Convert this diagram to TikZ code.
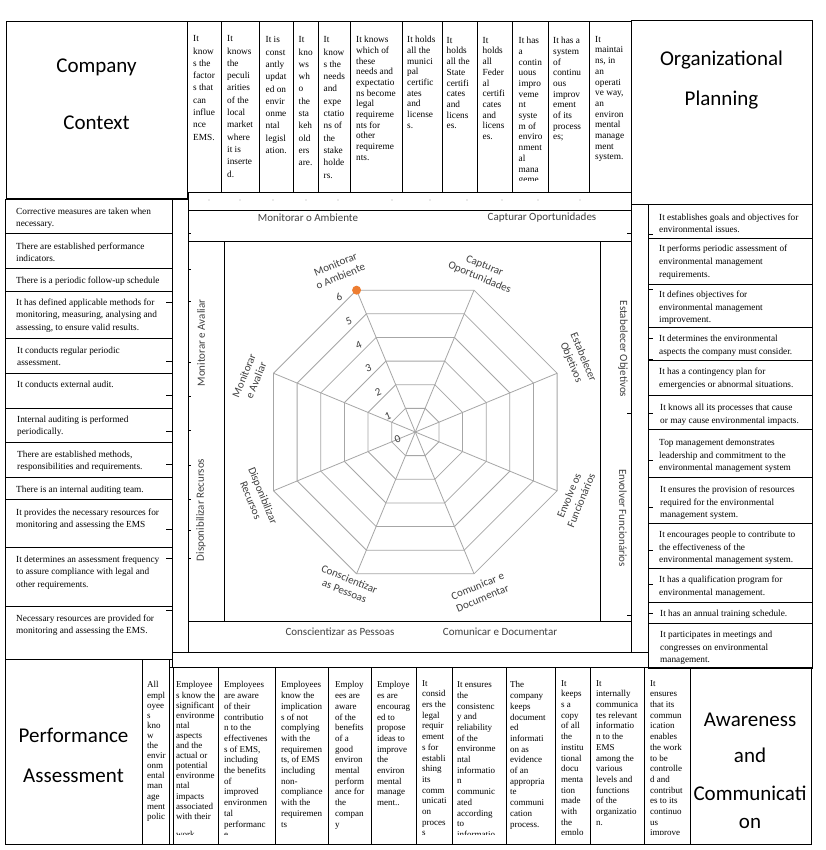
\documentclass[tikz,border=0pt]{standalone}
\usepackage{fontspec}
\setmainfont{Liberation Serif}
\newfontfamily\calib{Carlito}
\definecolor{gridgray}{HTML}{A6A6A6}
\definecolor{lblgray}{HTML}{404040}
\definecolor{dotorange}{HTML}{ED7D31}
\begin{document}
\begin{tikzpicture}[x=1pt,y=-1pt,
  bx/.style={draw=black,line width=0.8pt},
  tick/.style={draw=black,line width=0.8pt},
  txt/.style={align=left,inner sep=0pt,anchor=north west,text=black},
  tA/.style={txt,font=\fontsize{9.3}{12.3}\selectfont},
  tB/.style={txt,font=\fontsize{9.3}{10.7}\selectfont},
  lc/.style={txt,font=\fontsize{9.3}{12.3}\selectfont},
  rc/.style={txt,font=\fontsize{9.3}{12.6}\selectfont},
  bA/.style={txt,font=\fontsize{9}{10.7}\selectfont},
  bB/.style={txt,font=\fontsize{9}{10.1}\selectfont},
  ttl/.style={inner sep=0pt,font=\calib\fontsize{21}{25}\selectfont},
  blbl/.style={inner sep=0pt,text=lblgray,font=\calib\fontsize{11}{13}\selectfont},
  clbl/.style={inner sep=0pt,align=center,text=lblgray,font=\calib\fontsize{11}{13}\selectfont},
  nlbl/.style={inner sep=0pt,text=lblgray,font=\calib\fontsize{11}{13}\selectfont,rotate=22.5},
  grid/.style={draw=gridgray,line width=0.8pt}
]
\useasboundingbox (0,0) rectangle (825,850);
\fill[white] (0,0) rectangle (825,850);

% ---------- frame around the chart ----------
\draw[bx] (188,192) rectangle (631,210);
\draw[bx] (188,210) rectangle (631,241);
\draw[bx] (188,241) rectangle (224,621);
\draw[bx] (600,241) rectangle (631,621);
\draw[bx] (224,241) rectangle (600,621);
\draw[bx] (188,621) rectangle (631,652);
\draw[bx] (172,199) rectangle (188,652);
\draw[bx] (631,204) rectangle (648,652);
\draw[bx] (172,652) rectangle (648,667);
\foreach \x in {209,240,273,306,338,392,430,467,502,538,580}
  \fill[gray!70] (\x,200) circle (0.6);

% ---------- corner title boxes ----------
\draw[bx] (6,21) rectangle (187,198);
\draw[bx] (631,20) rectangle (812,204);
\draw[bx] (5,659) rectangle (142,844);
\draw[bx] (690,667) rectangle (811,844);
\node[ttl] (cc1) at (96.5,67) {Company};
\node[ttl] (cc2) at (96.5,123) {Context};
\node[ttl] (op1) at (721.5,60) {Organizational};
\node[ttl] (op2) at (721.5,100) {Planning};
\node[ttl] (pa1) at (73.5,735) {Performance};
\node[ttl] (pa2) at (73.5,776) {Assessment};
\node[ttl] (ac1) at (750,720) {Awareness};
\node[ttl] (ac2) at (750,755) {and};
\node[ttl] (ac3) at (750,793) {Communicati};
\node[ttl] (ac4) at (750,823) {on};

% ---------- top row ----------
\foreach \a/\b in {187/221,221/259,259/293,293/318,318/350,350/402,402/442,442/477,477/512,512/548,548/589,589/631}
  \draw[bx] (\a,21) rectangle (\b,192);
\begin{scope}
\clip (187,21) rectangle (631,181);
\node[tA] (t1) at (193,35.5) {It\\know\\s the\\factor\\s that\\can\\influe\\nce\\EMS.};
\node[tA] (t2) at (227,35.5) {It\\knows\\the\\peculi\\arities\\of the\\local\\market\\where\\it is\\inserte\\d.};
\node[tA] (t3) at (265.5,36.5) {It is\\const\\antly\\updat\\ed on\\envir\\onme\\ntal\\legisl\\ation.};
\node[tA] (t4) at (298.5,36.5) {It\\kno\\ws\\wh\\o\\the\\sta\\keh\\old\\ers\\are.};
\node[tA] (t5) at (323.5,36.5) {It\\know\\s the\\needs\\and\\expe\\ctatio\\ns of\\the\\stake\\holde\\rs.};
\node[tB] (t6) at (356,36) {It knows\\which of\\these\\needs and\\expectatio\\ns become\\legal\\requireme\\nts for\\other\\requireme\\nts.};
\node[tB] (t7) at (407,36) {It holds\\all the\\munici\\pal\\certific\\ates\\and\\license\\s.};
\node[tB] (t8) at (446.5,37) {It\\holds\\all the\\State\\certifi\\cates\\and\\licens\\es.};
\node[tB] (t9) at (482.5,37) {It\\holds\\all\\Feder\\al\\certifi\\cates\\and\\licens\\es.};
\node[tB] (t10) at (518.5,37) {It has\\a\\contin\\uous\\impro\\veme\\nt\\syste\\m of\\enviro\\nment\\al\\mana\\geme};
\node[tB] (t11) at (553,37) {It has a\\system\\of\\continu\\ous\\improv\\ement\\of its\\process\\es;};
\node[tB] (t12) at (595,36) {It\\maintai\\ns, in\\an\\operati\\ve way,\\an\\environ\\mental\\manage\\ment\\system.};
\end{scope}

% ---------- left column ----------
\foreach \a/\b in {199/233,233/268,268/291,291/338,338/373,373/408,408/442,442/477,477/499,499/547,547/606,606/659}
  \draw[bx] (5,\a) rectangle (172,\b);
\node[lc] (l1) at (16,207.5) {Corrective measures are taken when\\necessary.};
\node[lc] (l2) at (16,242.5) {There are established performance\\indicators.};
\node[lc] (l3) at (16,276.8) {There is a periodic follow-up schedule};
\node[lc] (l4) at (16,298.8) {It has defined applicable methods for\\monitoring, measuring, analysing and\\assessing, to ensure valid results.};
\node[lc] (l5) at (17,346.8) {It conducts regular periodic\\assessment.};
\node[lc] (l6) at (17,380.8) {It conducts external audit.};
\node[lc] (l7) at (17,415.8) {Internal auditing is performed\\periodically.};
\node[lc] (l8) at (17,450.8) {There are established methods,\\responsibilities and requirements.};
\node[lc] (l9) at (16,485.8) {There is an internal auditing team.};
\node[lc] (l10) at (16,508.8) {It provides the necessary resources for\\monitoring and assessing the EMS};
\node[lc] (l11) at (16,555.8) {It determines an assessment frequency\\to assure compliance with legal and\\other requirements.};
\node[lc] (l12) at (16,614.8) {Necessary resources are provided for\\monitoring and assessing the EMS.};
\foreach \y in {302,361,395,431,464,529,558,610}
  \draw[tick] (166,\y) -- (172,\y);
\foreach \y in {233,269,301,362,396,430,465,499,530,558}
  \draw[tick] (188,\y) -- (191,\y);

% ---------- right column ----------
\foreach \a/\b in {204/238,238/284,284/327,327/360,360/395,395/429,429/477,477/523,523/568,568/602,602/623,623/668}
  \draw[bx] (648,\a) rectangle (812,\b);
\node[rc] (r1) at (659,213.5) {It establishes goals and objectives for\\environmental issues.};
\node[rc] (r2) at (659,245.1) {It performs periodic assessment of\\environmental management\\requirements.};
\node[rc] (r3) at (659,290.8) {It defines objectives for\\environmental management\\improvement.};
\node[rc] (r4) at (659,334.8) {It determines the environmental\\aspects the company must consider.};
\node[rc] (r5) at (659,367.8) {It has a contingency plan for\\emergencies or abnormal situations.};
\node[rc] (r6) at (660,403.8) {It knows all its processes that cause\\or may cause environmental impacts.};
\node[rc] (r7) at (659,438.8) {Top management demonstrates\\leadership and commitment to the\\environmental management system};
\node[rc] (r8) at (660,485.8) {It ensures the provision of resources\\required for the environmental\\management system.};
\node[rc] (r9) at (659,530.8) {It encourages people to contribute to\\the effectiveness of the\\environmental management system.};
\node[rc] (r10) at (659,575.8) {It has a qualification program for\\environmental management.};
\node[rc] (r11) at (660,609.8) {It has an annual training schedule.};
\node[rc] (r12) at (660,630.8) {It participates in meetings and\\congresses on environmental\\management.};
\foreach \y in {234,289,338,359,413,460,507,550,584,613}
  \draw[tick] (648,\y) -- (653,\y);
\foreach \y in {233,413,615}
  \draw[tick] (627,\y) -- (631,\y);

% ---------- bottom row ----------
\draw[bx] (142,659) rectangle (169,844);
\draw[bx] (169,667) rectangle (173,844);
\foreach \a/\b in {173/218,218/275,275/328,328/371,371/416,416/452,452/506,506/555,555/590,590/644,644/690}
  \draw[bx] (\a,667) rectangle (\b,844);
\begin{scope}
\clip (142,659) rectangle (690,834);
\node[bB] (b0) at (147,681.5) {All\\empl\\oyee\\s\\kno\\w\\the\\envir\\onm\\ental\\man\\age\\ment\\polic};
\node[bB] (b1) at (176,681.5) {Employee\\s know the\\significant\\environme\\ntal\\aspects\\and the\\actual or\\potential\\environme\\ntal\\impacts\\associated\\with their};
\node[bB] (b1x) at (176,831) {work};
\node[bA] (b2) at (224,681.5) {Employees\\are aware\\of their\\contributio\\n to the\\effectivenes\\s of EMS,\\including\\the benefits\\of\\improved\\environmen\\tal\\performanc\\e};
\node[bA] (b3) at (281,681.5) {Employees\\know the\\implication\\s of not\\complying\\with the\\requiremen\\ts, of EMS\\including\\non-\\compliance\\with the\\requiremen\\ts};
\node[bA] (b4) at (335,681.5) {Employ\\ees are\\aware\\of the\\benefits\\of a\\good\\environ\\mental\\perform\\ance for\\the\\compan\\y};
\node[bA] (b5) at (377,681.5) {Employe\\es are\\encourag\\ed to\\propose\\ideas to\\improve\\the\\environ\\mental\\manage\\ment..};
\node[bA] (b6) at (422,680) {It\\consid\\ers the\\legal\\requir\\ement\\s for\\establi\\shing\\its\\comm\\unicati\\on\\proces\\s};
\node[bA] (b7) at (457,681.5) {It ensures\\the\\consistenc\\y and\\reliability\\of the\\environme\\ntal\\informatio\\n\\communic\\ated\\according\\to\\informatio};
\node[bA] (b8) at (510,681.5) {The\\company\\keeps\\document\\ed\\informati\\on as\\evidence\\of an\\appropria\\te\\communi\\cation\\process.};
\node[bA] (b9) at (561,680) {It\\keeps\\s a\\copy\\of all\\the\\institu\\tional\\docu\\menta\\tion\\made\\with\\the\\emplo};
\node[bA] (b10) at (596,680) {It\\internally\\communica\\tes relevant\\informatio\\n to the\\EMS\\among the\\various\\levels and\\functions\\of the\\organizatio\\n.};
\node[bA] (b11) at (650,680) {It\\ensures\\that its\\commun\\ication\\enables\\the work\\to be\\controlle\\d and\\contribut\\es to its\\continuo\\us\\improve};
\end{scope}

% ---------- band labels ----------
\node[blbl] (bMA) at (308,218) {Monitorar o Ambiente};
\node[blbl] (bCO) at (542,218) {Capturar Oportunidades};
\node[blbl] (bCP) at (340,632) {Conscientizar as Pessoas};
\node[blbl] (bCD) at (500,632) {Comunicar e Documentar};
\node[blbl,rotate=90] (bMV) at (201,343) {Monitorar e Avaliar};
\node[blbl,rotate=90] (bDR) at (201,510) {Disponibilizar Recursos};
\node[blbl,rotate=-90] (bEO) at (623,349) {Estabelecer Objetivos};
\node[blbl,rotate=-90] (bEF) at (623,518) {Envolver Funcionários};

% ---------- radar chart ----------
\begin{scope}[shift={(415.3,432)},yscale=-1]
  \foreach \k in {1,...,6}
    \draw[grid] (22.5:{25.58*\k}) -- (67.5:{25.58*\k}) -- (112.5:{25.58*\k}) -- (157.5:{25.58*\k})
      -- (202.5:{25.58*\k}) -- (247.5:{25.58*\k}) -- (292.5:{25.58*\k}) -- (337.5:{25.58*\k}) -- cycle;
  \foreach \j in {0,...,7}
    \draw[grid] (0,0) -- ({22.5+45*\j}:153.5);
  \fill[dotorange] (112.5:153.5) circle (4.5);
\end{scope}
\foreach \k in {0,...,6}
  \node[nlbl] (n\k) at ({397.7-9.79*\k},{439.3-23.63*\k}) {\k};

\node[clbl,rotate=22.5] (cMA) at (338,270) {Monitorar\\o Ambiente};
\node[clbl,rotate=-22.5] (cCO) at (482,272) {Capturar\\Oportunidades};
\node[clbl,rotate=-67.5] (cEO) at (577,360) {Estabelecer\\Objetivos};
\node[clbl,rotate=67.5] (cEF) at (575,498) {Envolve os\\Funcionários};
\node[clbl,rotate=22.5] (cCD) at (480,592) {Comunicar e\\Documentar};
\node[clbl,rotate=-22.5] (cCP) at (347,585) {Conscientizar\\as Pessoas};
\node[clbl,rotate=-67.5] (cDR) at (257,498) {Disponibilizar\\Recursos};
\node[clbl,rotate=67.5] (cMV) at (250,378) {Monitorar\\e Avaliar};
\end{tikzpicture}
\end{document}
